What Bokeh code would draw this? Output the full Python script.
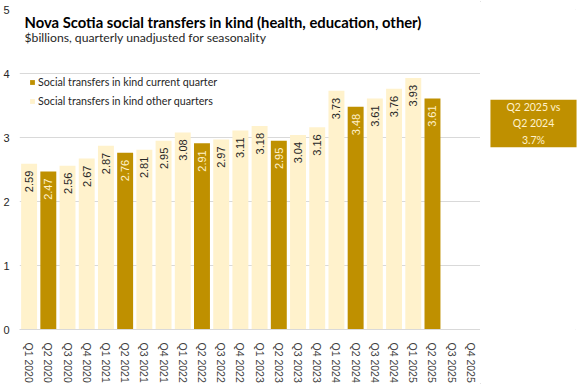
from math import pi
from bokeh.plotting import figure
from bokeh.layouts import row
from bokeh.models import (ColumnDataSource, FactorRange, Range1d, FixedTicker,
                          Legend, LegendItem, Label)
from bokeh.core.properties import value
from bokeh.embed import file_html
from bokeh.resources import INLINE

# ---------------- data ----------------
quarters = ["Q1 2020", "Q2 2020", "Q3 2020", "Q4 2020",
            "Q1 2021", "Q2 2021", "Q3 2021", "Q4 2021",
            "Q1 2022", "Q2 2022", "Q3 2022", "Q4 2022",
            "Q1 2023", "Q2 2023", "Q3 2023", "Q4 2023",
            "Q1 2024", "Q2 2024", "Q3 2024", "Q4 2024",
            "Q1 2025", "Q2 2025", "Q3 2025", "Q4 2025"]
values = [2.59, 2.47, 2.56, 2.67,
          2.87, 2.76, 2.81, 2.95,
          3.08, 2.91, 2.97, 3.11,
          3.18, 2.95, 3.04, 3.16,
          3.73, 3.48, 3.61, 3.76,
          3.93, 3.61, None, None]
current_quarter = "Q2"
y_ticks = [0, 1, 2, 3, 4, 5]

title_text = "Nova Scotia social transfers in kind (health, education, other)"
subtitle_text = "$billions, quarterly unadjusted for seasonality"
legend_current = "Social transfers in kind current quarter"
legend_other = "Social transfers in kind other quarters"

# ---------------- derived ----------------
known = [(q, v) for q, v in zip(quarters, values) if v is not None]
last_q, last_v = known[-1]
prev_q, prev_v = known[-5]
pct = (last_v / prev_v - 1) * 100
note_text = f"{last_q} vs\n{prev_q}\n{pct:.1f}%"

cur = [(q, v) for q, v in known if q.startswith(current_quarter)]
oth = [(q, v) for q, v in known if not q.startswith(current_quarter)]
src_cur = ColumnDataSource(dict(q=[a for a, _ in cur], v=[b for _, b in cur],
                                lbl=[f"{b:.2f}" for _, b in cur]))
src_oth = ColumnDataSource(dict(q=[a for a, _ in oth], v=[b for _, b in oth],
                                lbl=[f"{b:.2f}" for _, b in oth]))

DARK = "#BF9000"
LIGHT = "#FFF2CC"
GRID = "#D9D9D9"
UI = "Lato"
SANS = "Liberation Sans"

p = figure(x_range=FactorRange(*quarters, range_padding=0), y_range=Range1d(0, 5),
           width=480, height=385, output_backend="svg", toolbar_location=None,
           min_border_left=19, min_border_right=0, min_border_top=9, min_border_bottom=54)
p.outline_line_color = None
p.background_fill_color = "white"
p.border_fill_color = "white"

r_oth = p.vbar(x="q", top="v", width=0.83, source=src_oth, fill_color=LIGHT, line_color=None)
r_cur = p.vbar(x="q", top="v", width=0.83, source=src_cur, fill_color=DARK, line_color=None)

p.text(x="q", y="v", text="lbl", source=src_oth, angle=pi / 2, text_align="right",
       text_baseline="middle", y_offset=7, text_font=value(SANS),
       text_font_size="11px", text_color="#262626")
p.text(x="q", y="v", text="lbl", source=src_cur, angle=pi / 2, text_align="right",
       text_baseline="middle", y_offset=7, text_font=value(SANS),
       text_font_size="11px", text_color=LIGHT)

# axes
p.yaxis.ticker = FixedTicker(ticks=y_ticks)
p.yaxis.axis_line_color = None
p.yaxis.major_tick_line_color = None
p.yaxis.minor_tick_line_color = None
p.yaxis.major_label_standoff = 4
p.yaxis.major_label_text_font = SANS
p.yaxis.major_label_text_font_size = "11px"
p.yaxis.major_label_text_color = "#262626"

p.xaxis.major_label_orientation = "vertical"
p.xaxis.axis_line_color = GRID
p.xaxis.major_tick_line_color = None
p.xaxis.minor_tick_line_color = None
p.xaxis.major_label_standoff = 7
p.xaxis.major_label_text_font = SANS
p.xaxis.major_label_text_font_size = "10.5px"
p.xaxis.major_label_text_color = "#404040"

p.ygrid.grid_line_color = GRID
p.xgrid.grid_line_color = None

# legend
legend = Legend(items=[LegendItem(label=legend_current, renderers=[r_cur]),
                       LegendItem(label=legend_other, renderers=[r_oth])],
                location=(10, 222), orientation="vertical",
                glyph_width=6, glyph_height=6, label_height=13, spacing=6,
                padding=0, margin=0, label_standoff=3,
                label_text_font=UI, label_text_font_size="10.7px",
                label_text_color="#262626",
                background_fill_alpha=0, border_line_color=None)
p.add_layout(legend)

# title & subtitle
p.add_layout(Label(x=5, y=307.5, x_units="screen", y_units="screen", text=title_text,
                   text_font=UI, text_font_style="bold", text_font_size="14.8px",
                   text_color="#000000", text_baseline="alphabetic"))
p.add_layout(Label(x=5, y=292.5, x_units="screen", y_units="screen", text=subtitle_text,
                   text_font=UI, text_font_size="12.2px",
                   text_color="#262626", text_baseline="alphabetic"))

# note panel on the right
q = figure(width=97, height=385, x_range=Range1d(0, 1), y_range=Range1d(0, 1),
           x_axis_type=None, y_axis_type=None, output_backend="svg",
           toolbar_location=None, min_border=0)
q.outline_line_color = None
q.grid.visible = False
q.background_fill_color = "white"
q.border_fill_color = "white"
q.add_layout(Label(x=53, y=206, x_units="screen", y_units="screen", text=note_text,
                   text_font=UI, text_font_size="10.5px", text_color=LIGHT,
                   text_align="center", text_baseline="middle", text_line_height=1.4,
                   background_fill_color=DARK, padding=dict(x=16, y=1)))

layout = row(p, q, spacing=0)
layout.styles = {"outline": "1px solid #D9D9D9", "outline-offset": "-2px"}
open("out.html", "w").write(file_html(layout, INLINE))
